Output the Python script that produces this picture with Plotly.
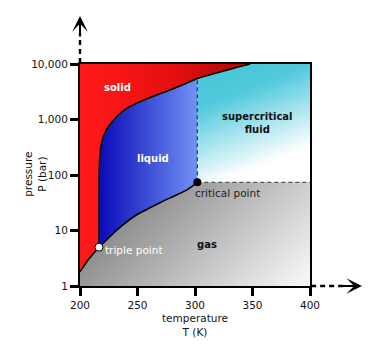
import numpy as np
import plotly.graph_objects as go

# ---- data ----
sub_T = [200, 207, 216.5]            # sublimation curve
sub_P = [1.8, 2.95, 5.0]
melt_T = [216.5, 216.5, 216.7, 217.4, 220.3, 224.6, 231.9, 240.6, 252.2, 266.7, 278.3, 290, 302, 333, 348]
melt_P = [5.0, 35, 107, 246, 490, 741, 1122, 1585, 2090, 2754, 3390, 4270, 5500, 8330, 10000]
vap_T = [216.5, 232, 249, 270, 293, 302]   # vaporisation curve
vap_P = [5.0, 10.2, 19, 32, 54, 73.8]
triple = (216.5, 5.0)
critical = (302, 73.8)
T_range = [200, 400]
P_range = [1, 10000]
x_ticks = [200, 250, 300, 350, 400]
y_ticks = [1, 10, 100, 1000, 10000]
y_ticktext = ["1", "10", "100", "1,000", "10,000"]

FONT = "DejaVu Sans"
fig = go.Figure()

# ---- background gradients (gas and supercritical) ----
def grad_heatmap(T0, T1, P0, P1, wx, wy, colorscale, n=40):
    xe = np.linspace(T0, T1, n + 1)
    ye = np.logspace(np.log10(P0), np.log10(P1), n + 1)
    xc = (xe[:-1] + xe[1:]) / 2
    yc = np.sqrt(ye[:-1] * ye[1:])
    u = (xc - T0) / (T1 - T0)
    v = (np.log10(yc) - np.log10(P0)) / (np.log10(P1) - np.log10(P0))
    U, V = np.meshgrid(u, v)
    z = wx * U + wy * (1 - V)
    return go.Heatmap(x=xe, y=ye, z=z, zmin=0, zmax=1, colorscale=colorscale,
                      showscale=False, hoverinfo="skip", zsmooth="best")

fig.add_trace(grad_heatmap(T_range[0], T_range[1], P_range[0], critical[1], 0.69, 0.31,
                           [[0, "#6c6c6c"], [1, "#fbfbfb"]]))
fig.add_trace(grad_heatmap(critical[0], T_range[1], critical[1], P_range[1], 0.3, 0.8,
                           [[0, "#46c4d8"], [0.3, "#52c9dc"], [0.85, "#ffffff"], [1, "#ffffff"]]))

# ---- solid region ----
solid_T = sub_T + melt_T[1:] + [T_range[0], sub_T[0]]
solid_P = sub_P + melt_P[1:] + [P_range[1], sub_P[0]]
fig.add_trace(go.Scatter(x=solid_T, y=solid_P, mode="lines", fill="toself",
                         line=dict(width=0), hoverinfo="skip",
                         fillgradient=dict(type="horizontal",
                                           colorscale=[[0, "#ff1a1a"], [0.5, "#e81010"], [1, "#b00505"]])))

# ---- liquid region ----
k = melt_T.index(critical[0])
liq_T = melt_T[:k + 1] + [critical[0]] + vap_T[::-1]
liq_P = melt_P[:k + 1] + [critical[1]] + vap_P[::-1]
fig.add_trace(go.Scatter(x=liq_T, y=liq_P, mode="lines", fill="toself",
                         line=dict(width=0), hoverinfo="skip",
                         fillgradient=dict(type="horizontal",
                                           colorscale=[[0, "#0a0ab8"], [1, "#7092f4"]])))

# ---- dashed boundaries ----
fig.add_trace(go.Scatter(x=[critical[0], critical[0]], y=[critical[1], melt_P[k]], mode="lines",
                         line=dict(color="#2a3550", width=1.2, dash="4px,3px"), hoverinfo="skip"))
fig.add_trace(go.Scatter(x=[critical[0], T_range[1]], y=[critical[1], critical[1]], mode="lines",
                         line=dict(color="#555555", width=1.2, dash="4px,3px"), hoverinfo="skip"))

# ---- phase boundary curves ----
for xs, ys in [(sub_T, sub_P), (melt_T, melt_P), (vap_T, vap_P)]:
    fig.add_trace(go.Scatter(x=xs, y=ys, mode="lines",
                             line=dict(color="black", width=1.6, shape="spline", smoothing=0.5),
                             hoverinfo="skip"))

# ---- points ----
fig.add_trace(go.Scatter(x=[critical[0]], y=[critical[1]], mode="markers",
                         marker=dict(color="black", size=8), hoverinfo="skip"))
fig.add_trace(go.Scatter(x=[triple[0]], y=[triple[1]], mode="markers",
                         marker=dict(color="white", size=8, line=dict(color="black", width=1)), hoverinfo="skip"))

# ---- labels ----
def lab(x, y, text, color, bold=True, size=10, **kw):
    fig.add_annotation(x=x, y=np.log10(y), text=f"<b>{text}</b>" if bold else text, showarrow=False,
                       font=dict(family=FONT, size=size, color=color), **kw)

lab(233, 3850, "solid", "white")
lab(263.5, 195, "liquid", "white")
lab(354, 870, "supercritical<br>fluid", "#111111")
lab(310.5, 5.5, "gas", "#111111")
lab(critical[0], 47.5, "critical point", "#222222", bold=False, size=10.5, xanchor="left", xshift=-4)
lab(triple[0], 4.5, "triple point", "white", bold=False, size=10.5, xanchor="left", xshift=4)

# axis titles
fig.add_annotation(xref="paper", yref="paper", x=0.5, y=-0.174, yanchor="middle", showarrow=False,
                   text="temperature<br>T (K)", font=dict(family=FONT, size=10.5, color="#111111"))
fig.add_annotation(xref="paper", yref="paper", x=-0.196, y=0.505, xanchor="center", yanchor="middle",
                   showarrow=False, textangle=-90,
                   text="pressure<br>P (bar)", font=dict(family=FONT, size=10.5, color="#111111"))

# ---- dashed arrows beyond the axes ----
fig.add_shape(type="line", xref="paper", yref="paper", x0=1.005, x1=1.152, y0=0, y1=0,
              line=dict(color="black", width=2.5, dash="5px,4px"))
fig.add_shape(type="line", xref="paper", yref="paper", x0=0, x1=0, y0=1.005, y1=1.14,
              line=dict(color="black", width=2.5, dash="5px,4px"))
fig.add_annotation(xref="paper", yref="paper", x=1.226, y=0, ax=-22, ay=0, text="",
                   showarrow=True, arrowhead=3, arrowsize=1.3, arrowwidth=2, arrowcolor="black")
fig.add_annotation(xref="paper", yref="paper", x=0, y=1.216, ax=0, ay=22, text="",
                   showarrow=True, arrowhead=3, arrowsize=1.3, arrowwidth=2, arrowcolor="black")

fig.update_layout(
    width=389, height=357, margin=dict(l=72, r=87, t=56, b=79, autoexpand=False),
    paper_bgcolor="white", plot_bgcolor="white", showlegend=False,
    font=dict(family=FONT, size=10, color="#111111"),
)
fig.update_xaxes(range=T_range, tickvals=x_ticks, showgrid=False, zeroline=False, automargin=False,
                 showline=True, linecolor="black", linewidth=2, mirror=True,
                 ticks="outside", ticklen=8, tickwidth=3, tickcolor="black",
                 tickfont=dict(family=FONT, size=10.5, color="#111111"))
fig.update_yaxes(type="log", range=[0, 4], tickvals=y_ticks, ticktext=y_ticktext, showgrid=False, zeroline=False,
                 automargin=False,
                 showline=True, linecolor="black", linewidth=2, mirror=True,
                 ticks="outside", ticklen=8, tickwidth=3, tickcolor="black",
                 tickfont=dict(family=FONT, size=10.5, color="#111111"))

fig.write_html("out.html")
